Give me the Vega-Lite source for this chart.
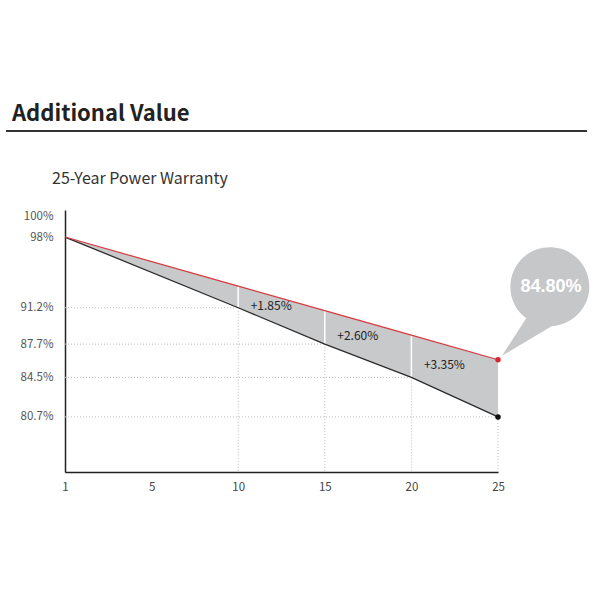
{
  "$schema": "https://vega.github.io/schema/vega-lite/v6.json",
  "background": "white",
  "padding": {"left": 5, "top": 103, "right": 5, "bottom": 5},
  "spacing": 39,
  "columns": 1,
  "config": {
    "view": {"stroke": null},
    "font": "Noto Sans CJK KR",
    "axisY": {"ticks": false, "grid": false, "domainColor": "#222", "domainWidth": 1.5, "labelColor": "#555", "labelFontSize": 11.5, "labelPadding": 12, "minExtent": 53, "labelFlush": false, "labelOverlap": false, "title": null},
    "axisX": {"ticks": false, "grid": false, "domainColor": "#222", "domainWidth": 1.5, "labelColor": "#444", "labelFontSize": 11.5, "labelPadding": 9, "labelAngle": 0, "title": null}
  },
  "datasets": {
    "warranty": [
      {"year": 1, "black": 98, "red": 98},
      {"year": 10, "black": 91.2, "red": 93.28, "gain": "+1.85%"},
      {"year": 15, "black": 87.7, "red": 90.92, "gain": "+2.60%"},
      {"year": 20, "black": 84.5, "red": 88.56, "gain": "+3.35%"},
      {"year": 25, "black": 80.7, "red": 86.2, "note": "84.80%"}
    ]
  },
  "concat": [
    {
      "width": 522,
      "height": 1,
      "title": {"text": "Additional Value", "anchor": "start", "frame": "group", "dx": -53, "fontSize": 22, "fontWeight": "bold", "color": "#222", "baseline": "alphabetic", "offset": -13, "font": "Noto Sans CJK KR"},
      "data": {"values": [{"level": 0}]},
      "mark": {"type": "rule", "stroke": "#333", "strokeWidth": 2},
      "encoding": {
        "x": {"datum": 0, "type": "quantitative", "scale": {"domain": [0.1015, 1], "clamp": false, "nice": false, "zero": false}, "axis": null},
        "x2": {"datum": 1},
        "y": {"field": "level", "type": "quantitative", "scale": {"domain": [0, 1]}, "axis": null}
      }
    },
    {
      "width": 433,
      "height": 262,
      "title": {"text": "25-Year Power Warranty", "anchor": "start", "frame": "group", "dx": -13, "fontSize": 16, "fontWeight": "normal", "color": "#333", "baseline": "alphabetic", "offset": 10, "font": "Noto Sans CJK KR"},
      "data": {"name": "warranty"},
      "encoding": {
        "x": {"field": "year", "type": "ordinal", "scale": {"type": "point", "domain": [1, 5, 10, 15, 20, 25], "padding": 0}}
      },
      "layer": [
        {
          "transform": [{"filter": "datum.year >= 10"}],
          "mark": {"type": "rule", "stroke": "#bdbdbd", "strokeDash": [1, 2], "strokeWidth": 1},
          "encoding": {
            "x": {"datum": 1, "type": "ordinal"},
            "x2": {"field": "year"},
            "y": {"field": "black", "type": "quantitative", "scale": {"domain": [75.4, 100.6], "nice": false, "zero": false}, "axis": {"values": [80.7, 84.5, 87.7, 91.2, 98, 100], "labelExpr": "datum.value + '%'", "title": null}}
          }
        },
        {
          "transform": [{"filter": "datum.year >= 10"}],
          "mark": {"type": "rule", "stroke": "#bdbdbd", "strokeDash": [1, 2], "strokeWidth": 1},
          "encoding": {
            "y": {"field": "black", "type": "quantitative", "scale": {"domain": [75.4, 100.6], "nice": false, "zero": false}},
            "y2": {"datum": 75.4}
          }
        },
        {
          "mark": {"type": "area", "fill": "#c8c9cb", "opacity": 1},
          "encoding": {
            "y": {"field": "black", "type": "quantitative", "scale": {"domain": [75.4, 100.6], "nice": false, "zero": false}},
            "y2": {"field": "red"}
          }
        },
        {
          "transform": [{"filter": "datum.year >= 10 && datum.year <= 20"}],
          "mark": {"type": "rule", "stroke": "white", "strokeWidth": 1.5},
          "encoding": {
            "y": {"field": "black", "type": "quantitative", "scale": {"domain": [75.4, 100.6], "nice": false, "zero": false}},
            "y2": {"field": "red"}
          }
        },
        {
          "mark": {"type": "line", "stroke": "#2b2b2b", "strokeWidth": 1.3},
          "encoding": {
            "y": {"field": "black", "type": "quantitative", "scale": {"domain": [75.4, 100.6], "nice": false, "zero": false}}
          }
        },
        {
          "mark": {"type": "line", "stroke": "#d8393f", "strokeWidth": 1.2},
          "encoding": {
            "y": {"field": "red", "type": "quantitative", "scale": {"domain": [75.4, 100.6], "nice": false, "zero": false}}
          }
        },
        {
          "transform": [{"filter": "datum.year == 25"}],
          "mark": {"type": "point", "shape": "M0.035,-0.035L0.251,-0.368A0.351,0.351,0,1,1,0.480,-0.299Z", "size": 50625, "filled": true, "fill": "#c6c7c9", "opacity": 1, "strokeWidth": 0},
          "encoding": {
            "y": {"field": "red", "type": "quantitative", "scale": {"domain": [75.4, 100.6], "nice": false, "zero": false}}
          }
        },
        {
          "transform": [{"filter": "datum.year == 25"}],
          "mark": {"type": "point", "filled": true, "fill": "#d8262e", "size": 30, "opacity": 1},
          "encoding": {
            "y": {"field": "red", "type": "quantitative", "scale": {"domain": [75.4, 100.6], "nice": false, "zero": false}}
          }
        },
        {
          "transform": [{"filter": "datum.year == 25"}],
          "mark": {"type": "point", "filled": true, "fill": "#111", "size": 30, "opacity": 1},
          "encoding": {
            "y": {"field": "black", "type": "quantitative", "scale": {"domain": [75.4, 100.6], "nice": false, "zero": false}}
          }
        },
        {
          "transform": [{"filter": "datum.gain"}, {"fold": ["black", "red"], "as": ["line", "level"]}],
          "mark": {"type": "text", "dx": 33, "dy": 9, "align": "center", "baseline": "middle", "fontSize": 12, "color": "#222", "font": "Noto Sans CJK KR"},
          "encoding": {
            "y": {"aggregate": "mean", "field": "level", "type": "quantitative", "scale": {"domain": [75.4, 100.6], "nice": false, "zero": false}},
            "text": {"field": "gain", "type": "nominal"}
          }
        },
        {
          "transform": [{"filter": "datum.year == 25"}],
          "mark": {"type": "text", "dx": 53, "dy": -73, "align": "center", "baseline": "middle", "fontSize": 18, "fontWeight": "bold", "color": "white", "font": "Liberation Sans"},
          "encoding": {
            "y": {"field": "red", "type": "quantitative", "scale": {"domain": [75.4, 100.6], "nice": false, "zero": false}},
            "text": {"field": "note", "type": "nominal"}
          }
        }
      ]
    }
  ]
}
